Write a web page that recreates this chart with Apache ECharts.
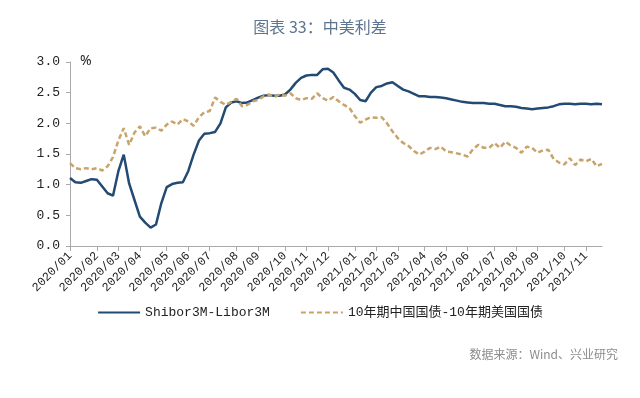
<!DOCTYPE html>
<html>
<head>
<meta charset="utf-8">
<script src="https://cdn.jsdelivr.net/npm/echarts@6/dist/echarts.min.js"></script>
<style>
  html, body { margin: 0; padding: 0; background: #fff; }
  #chart { width: 640px; height: 398px; }
</style>
</head>
<body>
<div id="chart"></div>
<script>
// weekly points, first one on 2020-01-01
var startDate = '2020-01-01';
var shiborLibor = [
  1.11, 1.04, 1.03, 1.06, 1.09, 1.08, 0.97, 0.86, 0.82, 1.22,
  1.49, 1.02, 0.75, 0.48, 0.38, 0.30, 0.35, 0.70, 0.96, 1.01,
  1.03, 1.04, 1.22, 1.49, 1.72, 1.83, 1.84, 1.86, 2.00, 2.26,
  2.34, 2.36, 2.33, 2.34, 2.38, 2.42, 2.45, 2.46, 2.45, 2.45,
  2.47, 2.55, 2.66, 2.74, 2.78, 2.79, 2.79, 2.88, 2.89, 2.83,
  2.70, 2.58, 2.55, 2.48, 2.38, 2.36, 2.50, 2.59, 2.61, 2.65,
  2.67, 2.61, 2.55, 2.52, 2.48, 2.44, 2.44, 2.43, 2.43, 2.42,
  2.41, 2.39, 2.37, 2.35, 2.34, 2.33, 2.33, 2.33, 2.32, 2.32,
  2.30, 2.28, 2.28, 2.27, 2.25, 2.24, 2.23, 2.24, 2.25, 2.26,
  2.28, 2.31, 2.32, 2.32, 2.31, 2.32, 2.32, 2.31, 2.32, 2.31
];
var cnUs10y = [
  1.35, 1.27, 1.25, 1.27, 1.25, 1.27, 1.23, 1.30, 1.45, 1.72,
  1.92, 1.65, 1.85, 1.95, 1.79, 1.92, 1.93, 1.88, 1.98, 2.03,
  1.98, 2.07, 2.03, 1.96, 2.10, 2.18, 2.20, 2.42, 2.35, 2.30,
  2.35, 2.40, 2.28, 2.30, 2.36, 2.38, 2.44, 2.47, 2.43, 2.47,
  2.45, 2.49, 2.41, 2.38, 2.41, 2.40, 2.49, 2.41, 2.37, 2.43,
  2.36, 2.30, 2.25, 2.12, 2.01, 2.06, 2.10, 2.09, 2.10, 2.00,
  1.87, 1.76, 1.68, 1.63, 1.55, 1.49, 1.54, 1.60, 1.58, 1.62,
  1.54, 1.53, 1.51, 1.49, 1.46, 1.58, 1.65, 1.60, 1.60, 1.68,
  1.60, 1.70, 1.64, 1.60, 1.52, 1.62, 1.60, 1.52, 1.56, 1.57,
  1.42, 1.36, 1.33, 1.43, 1.32, 1.41, 1.38, 1.42, 1.30, 1.34
];
var yTicks = [0, 0.5, 1.0, 1.5, 2.0, 2.5, 3.0];

var dates = [];
var d0 = new Date(startDate + 'T00:00:00Z');
for (var i = 0; i < shiborLibor.length; i++) {
  var d = new Date(d0.getTime() + i * 7 * 86400000);
  dates.push(d.toISOString().slice(0, 10));
}
// first week of each month gets a tick and a label
function monthStart(index) {
  return index === 0 || dates[index].slice(0, 7) !== dates[index - 1].slice(0, 7);
}

var myChart = echarts.init(document.getElementById('chart'));
myChart.setOption({
  animation: false,
  title: {
    text: '图表 33：中美利差',
    left: 'center',
    top: 14,
    textStyle: { color: '#5d7590', fontSize: 16, fontWeight: 'normal', fontFamily: 'Noto Sans CJK SC' }
  },
  legend: {
    bottom: 74,
    left: 'center',
    itemWidth: 42,
    itemHeight: 10,
    itemGap: 30,
    itemStyle: { opacity: 0 },
    textStyle: { fontSize: 13, color: '#222', fontFamily: '"Liberation Mono", "Noto Sans CJK SC"' },
    data: ['Shibor3M-Libor3M', '10年期中国国债-10年期美国国债']
  },
  grid: { left: 70, right: 38, top: 62, bottom: 152 },
  xAxis: {
    type: 'category',
    boundaryGap: false,
    data: dates,
    axisLine: { lineStyle: { color: '#aaa' } },
    axisTick: { interval: monthStart, length: 5, lineStyle: { color: '#aaa' } },
    axisLabel: {
      interval: monthStart,
      rotate: 45,
      margin: 8,
      fontSize: 12,
      color: '#222',
      fontFamily: '"Liberation Mono", monospace',
      formatter: function (v) { return v.slice(0, 4) + '/' + v.slice(5, 7); }
    }
  },
  yAxis: {
    type: 'value',
    min: yTicks[0],
    max: yTicks[yTicks.length - 1],
    interval: 0.5,
    splitLine: { show: false },
    axisLine: { show: true, lineStyle: { color: '#aaa' } },
    axisTick: { show: true, length: 4, lineStyle: { color: '#aaa' } },
    axisLabel: {
      fontSize: 13,
      color: '#222',
      margin: 10,
      fontFamily: '"Liberation Mono", monospace',
      formatter: function (v) { return v.toFixed(1); }
    }
  },
  graphic: [
    { type: 'text', left: 80, top: 54, style: { text: '%', fontSize: 14, fill: '#222', fontFamily: 'Noto Sans' } },
    { type: 'text', right: 22, top: 348, style: { text: '数据来源：Wind、兴业研究', fontSize: 12, fill: '#8c8c8c', fontFamily: 'Noto Sans CJK SC' } }
  ],
  series: [
    {
      name: 'Shibor3M-Libor3M',
      type: 'line',
      data: shiborLibor,
      symbol: 'none',
      lineStyle: { color: '#234a72', width: 2.5 },
      itemStyle: { color: '#234a72' }
    },
    {
      name: '10年期中国国债-10年期美国国债',
      type: 'line',
      data: cnUs10y,
      symbol: 'none',
      lineStyle: { color: '#c8a46b', width: 2.5, type: [5, 3] },
      itemStyle: { color: '#c8a46b' }
    }
  ]
});
</script>
</body>
</html>
